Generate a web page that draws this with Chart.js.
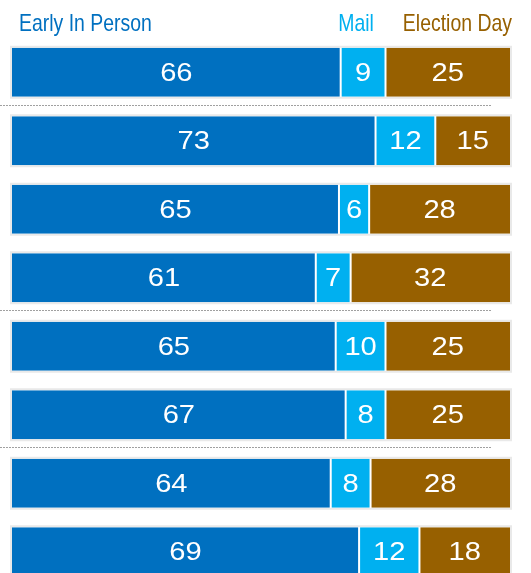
<!DOCTYPE html>
<html>
<head>
<meta charset="utf-8">
<script src="https://cdn.jsdelivr.net/npm/chart.js@4"></script>
<style>
  html, body { margin: 0; padding: 0; background: #fff; overflow: hidden; }
  #wrap { width: 531px; height: 588px; }
</style>
</head>
<body>
<div id="wrap"><canvas id="c" width="531" height="588"></canvas></div>
<script>
// Data
const rows = ["1", "2", "3", "4", "5", "6", "7", "8"];
const earlyInPerson = [66, 73, 65, 61, 65, 67, 64, 69];
const mail = [9, 12, 6, 7, 10, 8, 8, 12];
const electionDay = [25, 15, 28, 32, 25, 25, 28, 18];
const seriesNames = ["Early In Person", "Mail", "Election Day"];
const separatorsAfter = [0, 3, 5];

const colors = ["#0070C0", "#00B0F0", "#976000"];
const headerColors = ["#0070C0", "#00B0F0", "#976000"];

// bars are drawn as share of each row's total (100% stacked)
const series = [earlyInPerson, mail, electionDay];
const totals = rows.map((_, i) => series.reduce((s, arr) => s + arr[i], 0));
const pct = arr => arr.map((v, i) => v / totals[i] * 100);

const decorPlugin = {
  id: "decor",
  beforeDatasetsDraw(chart) {
    const ctx = chart.ctx;
    const n = chart.data.labels.length;
    ctx.save();
    ctx.strokeStyle = "#e9e9e9";
    ctx.lineWidth = 2;
    for (let i = 0; i < n; i++) {
      const first = chart.getDatasetMeta(0).data[i];
      const last = chart.getDatasetMeta(chart.data.datasets.length - 1).data[i];
      const x0 = Math.min(first.base, first.x);
      const x1 = Math.max(last.base, last.x);
      const h = first.height;
      ctx.strokeRect(x0 - 1, first.y - h / 2 - 1, x1 - x0 + 2, h + 2);
    }
    ctx.restore();
  },
  afterDatasetsDraw(chart) {
    const ctx = chart.ctx;
    const ys = chart.scales.y;
    const area = chart.chartArea;
    // value labels
    ctx.save();
    ctx.fillStyle = "#ffffff";
    ctx.textAlign = "center";
    ctx.textBaseline = "middle";
    ctx.font = "26px 'Liberation Sans', Arial, sans-serif";
    series.forEach((arr, di) => {
      const meta = chart.getDatasetMeta(di);
      meta.data.forEach((el, i) => {
        const cx = (el.x + el.base) / 2;
        ctx.save();
        ctx.translate(cx, el.y + 1.5);
        ctx.scale(1.12, 1);
        ctx.fillText(String(arr[i]), 0, 0);
        ctx.restore();
      });
    });
    ctx.restore();
    // dotted separators
    ctx.save();
    ctx.strokeStyle = "#a0a0a0";
    ctx.lineWidth = 1;
    ctx.setLineDash([2, 1]);
    separatorsAfter.forEach(i => {
      const y = Math.round((ys.getPixelForValue(i) + ys.getPixelForValue(i + 1)) / 2) - 1.5;
      ctx.beginPath();
      ctx.moveTo(0, y);
      ctx.lineTo(area.right - 18, y);
      ctx.stroke();
    });
    ctx.restore();
    // headers
    ctx.save();
    ctx.textBaseline = "alphabetic";
    ctx.font = "24px 'Liberation Sans', Arial, sans-serif";
    const hy = 31;
    const sx = 0.81;
    ctx.fillStyle = headerColors[0];
    ctx.save(); ctx.translate(area.left + 7, hy); ctx.scale(sx, 1);
    ctx.textAlign = "left"; ctx.fillText(seriesNames[0], 0, 0); ctx.restore();
    const m = chart.getDatasetMeta(1).data[0];
    ctx.fillStyle = headerColors[1];
    ctx.save(); ctx.translate((m.x + m.base) / 2 - 7, hy); ctx.scale(sx, 1);
    ctx.textAlign = "center"; ctx.fillText(seriesNames[1], 0, 0); ctx.restore();
    ctx.fillStyle = headerColors[2];
    ctx.save(); ctx.translate(area.right + 2, hy); ctx.scale(sx, 1);
    ctx.textAlign = "right"; ctx.fillText(seriesNames[2], 0, 0); ctx.restore();
    ctx.restore();
  }
};

const borders = [{ right: 1 }, { left: 1, right: 1 }, { left: 1 }];

new Chart(document.getElementById("c"), {
  type: "bar",
  data: {
    labels: rows,
    datasets: series.map((arr, di) => ({
      label: seriesNames[di],
      data: pct(arr),
      backgroundColor: colors[di],
      borderColor: "#ffffff",
      borderWidth: borders[di],
      borderSkipped: false,
      barPercentage: 0.715,
      categoryPercentage: 1.0
    }))
  },
  options: {
    indexAxis: "y",
    responsive: false,
    animation: false,
    devicePixelRatio: 1,
    layout: { padding: { top: 38, bottom: 2, left: 12, right: 21 } },
    plugins: { legend: { display: false }, tooltip: { enabled: false }, title: { display: false } },
    scales: {
      x: { stacked: true, min: 0, max: 100, display: false },
      y: { stacked: true, display: false }
    }
  },
  plugins: [decorPlugin]
});
</script>
</body>
</html>
